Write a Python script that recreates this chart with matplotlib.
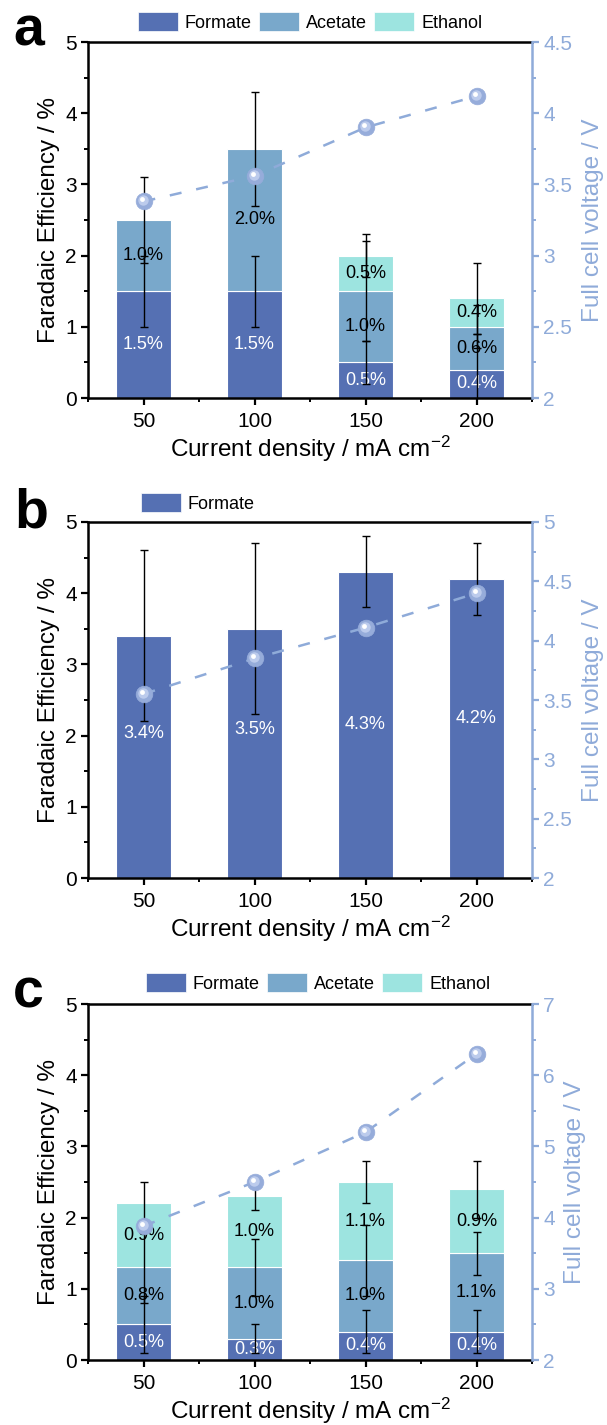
import numpy as np
import matplotlib
matplotlib.use('Agg')
import matplotlib.pyplot as plt
import matplotlib.ticker as ticker
import matplotlib.transforms as mtransforms
from matplotlib.patches import Patch

plt.rcParams['font.family'] = ['Liberation Sans', 'DejaVu Sans']
plt.rcParams['mathtext.fontset'] = 'custom'
plt.rcParams['mathtext.rm'] = 'Liberation Sans'
plt.rcParams['mathtext.it'] = 'Liberation Sans'
plt.rcParams['mathtext.default'] = 'regular'

###data###
current = [50, 100, 150, 200]

# panel a
formate_a = [1.5, 1.5, 0.5, 0.4]
acetate_a = [1.0, 2.0, 1.0, 0.6]
ethanol_a = [0.0, 0.0, 0.5, 0.4]
formate_err_a = [0.5, 0.5, 0.3, 0.5]
acetate_err_a = [0.6, 0.8, 0.7, 0.3]
ethanol_err_a = [np.nan, np.nan, 0.3, 0.5]
voltage_a = [3.38, 3.56, 3.90, 4.12]

# panel b
formate_b = [3.4, 3.5, 4.3, 4.2]
formate_err_b = [1.2, 1.2, 0.5, 0.5]
voltage_b = [3.55, 3.85, 4.11, 4.40]

# panel c
formate_c = [0.5, 0.3, 0.4, 0.4]
acetate_c = [0.8, 1.0, 1.0, 1.1]
ethanol_c = [0.9, 1.0, 1.1, 0.9]
formate_err_c = [0.4, 0.2, 0.3, 0.3]
acetate_err_c = [0.5, 0.4, 0.5, 0.3]
ethanol_err_c = [0.3, 0.2, 0.3, 0.4]
voltage_c = [3.88, 4.50, 5.20, 6.30]

###color scheme###
c_form = '#5570B3'
c_acet = '#79A8CB'
c_eth = '#9DE4E0'
c_volt = '#8FABD9'

W, H = 607, 1425
fig = plt.figure(figsize=(W / 100, H / 100), dpi=100)


def make_axes(top_px):
    ax = fig.add_axes([88 / W, 1 - (top_px + 356) / H, 444 / W, 356 / H])
    return ax


def style_axes(ax, ax2, vlim, vmajor, vminor):
    ax.set_xlim(25, 225)
    ax.set_ylim(0, 5)
    ax.xaxis.set_major_locator(ticker.FixedLocator(current))
    ax.xaxis.set_minor_locator(ticker.FixedLocator([25, 75, 125, 175, 225]))
    ax.yaxis.set_major_locator(ticker.MultipleLocator(1))
    ax.yaxis.set_minor_locator(ticker.MultipleLocator(0.5))
    ax.tick_params(which='major', direction='out', length=5, width=1.6, labelsize=15, pad=3)
    ax.tick_params(which='minor', direction='out', length=3, width=1.4)
    ax.tick_params(axis='x', pad=5)
    for s in ['left', 'bottom', 'top']:
        ax.spines[s].set_linewidth(1.8)
    ax.spines['right'].set_visible(False)
    ax.set_xlabel('Current density / mA cm$^{-2}$', fontsize=17.5, labelpad=2)
    ax.set_ylabel('Faradaic Efficiency / %', fontsize=17.5, labelpad=4)

    ax2.set_ylim(*vlim)
    ax2.yaxis.set_major_locator(ticker.MultipleLocator(vmajor))
    ax2.yaxis.set_minor_locator(ticker.MultipleLocator(vminor))
    ax2.yaxis.set_major_formatter(ticker.FuncFormatter(lambda v, p: f'{v:g}'))
    ax2.tick_params(which='major', direction='out', length=5, width=1.6, labelsize=15,
                    colors=c_volt, pad=3)
    ax2.tick_params(which='minor', direction='out', length=3, width=1.4, colors=c_volt)
    for s in ['left', 'bottom', 'top']:
        ax2.spines[s].set_visible(False)
    ax2.spines['right'].set_linewidth(1.8)
    ax2.spines['right'].set_color(c_volt)
    ax2.set_ylabel('Full cell voltage / V', fontsize=17.5, color=c_volt, labelpad=7)


def draw_voltage(ax2, v):
    ax2.plot(current, v, ls=(0, (4.8, 6)), lw=1.8, color=c_volt, zorder=3)
    ax2.plot(current, v, 'o', ms=12, mfc='#96ACDA', mec='#96ACDA', mew=0.5, zorder=4)
    t1 = mtransforms.offset_copy(ax2.transData, fig=fig, x=-1.0, y=1.0, units='dots')
    ax2.plot(current, v, 'o', ms=7.5, mfc='#BCCBEC', mec='none', transform=t1, zorder=5)
    t2 = mtransforms.offset_copy(ax2.transData, fig=fig, x=-2.0, y=2.0, units='dots')
    ax2.plot(current, v, 'o', ms=3.5, mfc='white', mec='none', transform=t2, zorder=6)


def draw_stack(ax, segs, errs, colors, txtcolors):
    bottom = np.zeros(len(current))
    for vals, err, col, tc in zip(segs, errs, colors, txtcolors):
        vals = np.array(vals)
        for xi, b, h in zip(current, bottom, vals):
            if h > 0:
                ax.bar(xi, h, width=25, bottom=b, color=col, edgecolor='white', linewidth=0.8, zorder=1)
                ax.text(xi, b + h / 2, f'{h:.1f}%', ha='center', va='center',
                        fontsize=13, color=tc, zorder=2)
        top = bottom + vals
        ax.errorbar(current, top, yerr=err, fmt='none', ecolor='black', elinewidth=1,
                    capsize=2.8, capthick=1, zorder=2.5)
        bottom = top


def legend(ax, labels, colors, x_px, y_px, loc):
    handles = [Patch(facecolor=c, edgecolor='white', linewidth=0.5) for c in colors]
    fig.legend(handles, labels, loc=loc, bbox_to_anchor=(x_px / W, 1 - y_px / H),
               ncol=len(labels), frameon=False, fontsize=13, handlelength=2.2,
               handleheight=1.2, handletextpad=0.4, columnspacing=0.4, borderaxespad=0,
               borderpad=0)


# panel a
ax = make_axes(42)
ax2 = ax.twinx()
draw_stack(ax, [formate_a, acetate_a, ethanol_a],
           [formate_err_a, acetate_err_a, ethanol_err_a],
           [c_form, c_acet, c_eth], ['white', 'black', 'black'])
draw_voltage(ax2, voltage_a)
style_axes(ax, ax2, (2, 4.5), 0.5, 0.25)
legend(ax, ['Formate', 'Acetate', 'Ethanol'], [c_form, c_acet, c_eth], 310, 22, 'center')
fig.text(13 / W, 1 - 45 / H, 'a', fontsize=40, fontweight='bold')

# panel b
ax = make_axes(522)
ax2 = ax.twinx()
ax.bar(current, formate_b, width=25, color=c_form, edgecolor='white', linewidth=0.8, zorder=1)
ax.errorbar(current, formate_b, yerr=formate_err_b, fmt='none', ecolor='black', elinewidth=1,
            capsize=2.8, capthick=1, zorder=2.5)
label_y_b = [2.03, 2.08, 2.16, 2.24]
for xi, h, ly in zip(current, formate_b, label_y_b):
    ax.text(xi, ly, f'{h:.1f}%', ha='center', va='center', fontsize=13, color='white', zorder=2)
draw_voltage(ax2, voltage_b)
style_axes(ax, ax2, (2, 5), 0.5, 0.25)
legend(ax, ['Formate'], [c_form], 141, 503, 'center left')
fig.text(14 / W, 1 - 528 / H, 'b', fontsize=40, fontweight='bold')

# panel c
ax = make_axes(1004)
ax2 = ax.twinx()
draw_stack(ax, [formate_c, acetate_c, ethanol_c],
           [formate_err_c, acetate_err_c, ethanol_err_c],
           [c_form, c_acet, c_eth], ['white', 'black', 'black'])
draw_voltage(ax2, voltage_c)
style_axes(ax, ax2, (2, 7), 1, 0.5)
legend(ax, ['Formate', 'Acetate', 'Ethanol'], [c_form, c_acet, c_eth], 318, 983, 'center')
fig.text(13 / W, 1 - 1008 / H, 'c', fontsize=40, fontweight='bold')

fig.savefig('out.png', dpi=100)
